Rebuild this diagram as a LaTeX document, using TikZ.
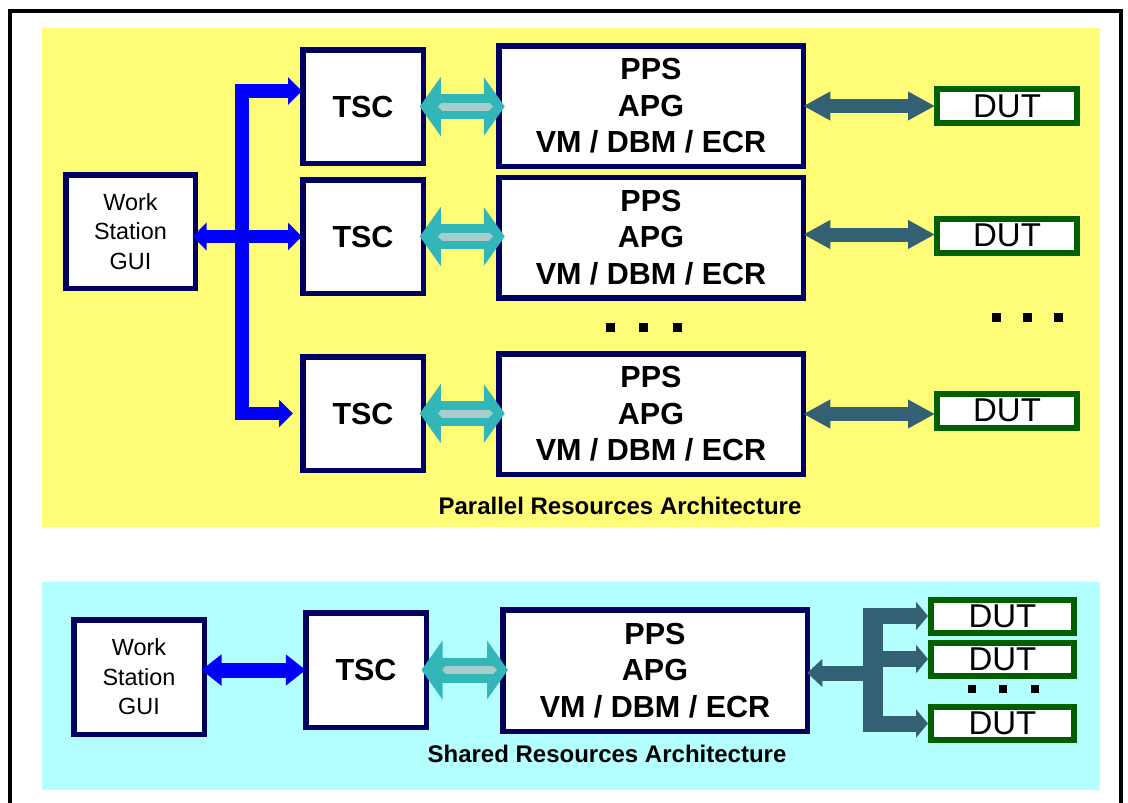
\documentclass[tikz,border=0pt]{standalone}
\usepackage{fontspec}
\setmainfont{Liberation Sans}
\usetikzlibrary{arrows.meta}
\definecolor{panelyellow}{RGB}{255,253,119}
\definecolor{panelcyan}{RGB}{180,255,255}
\definecolor{boxnavy}{RGB}{0,0,96}
\definecolor{busblue}{RGB}{0,0,255}
\definecolor{linkteal}{RGB}{50,182,184}
\definecolor{linkstripe}{RGB}{166,204,204}
\definecolor{dutslate}{RGB}{51,97,115}
\definecolor{dutgreen}{RGB}{0,96,0}
\begin{document}
\begin{tikzpicture}[x=1pt,y=-1pt,
  every node/.style={inner sep=0pt, outer sep=0pt},
  blockbox/.style={draw=boxnavy, line width=5.5pt, fill=white, align=center,
    font=\fontsize{30.5}{36.5}\selectfont\bfseries},
  tscbox/.style={blockbox, minimum width=120.5pt, minimum height=113.5pt},
  ppsbox/.style={blockbox, minimum width=304.5pt, minimum height=120.5pt},
  wsbox/.style={draw=boxnavy, line width=5.5pt, fill=white, align=center,
    minimum width=129.5pt, minimum height=113.5pt,
    font=\fontsize{23.4}{29.5}\selectfont},
  dutbox/.style={draw=dutgreen, line width=6pt, fill=white,
    minimum width=140pt, minimum height=34pt, font=\fontsize{33}{33}\selectfont},
  caption/.style={font=\fontsize{24}{24}\selectfont\bfseries},
  bluetip/.style={Triangle[length=14pt,width=27pt]},
  bluebus/.style={draw=busblue, line width=13.5pt, line join=miter,
    {Triangle[length=14pt,width=27pt]}-{Triangle[length=14pt,width=27pt]}},
  bluelink/.style={draw=busblue, line width=15pt,
    {Triangle[length=20pt,width=30pt]}-{Triangle[length=20pt,width=30pt]}},
  teallink/.style={draw=linkteal, line width=25pt,
    {Triangle[length=21pt,width=58pt]}-{Triangle[length=21pt,width=58pt]}},
  tealstripe/.style={draw=linkstripe, line width=8pt,
    {Triangle[length=4pt,width=8pt]}-{Triangle[length=4pt,width=8pt]}},
  dutlink/.style={draw=dutslate, line width=14pt,
    {Triangle[length=27pt,width=27pt]}-{Triangle[length=27pt,width=27pt]}},
  slatestem/.style={draw=dutslate, line width=15pt, -{Triangle[length=15pt,width=27pt]}},
  slatebranch/.style={draw=dutslate, line width=16pt, -{Triangle[length=12pt,width=28pt]}},
  dotmark/.style={fill=black}
]
\useasboundingbox (0,0) rectangle (1128,803);
\fill[white] (0,0) rectangle (1128,803);
\begin{scope}
  \clip (0,0) rectangle (1128,803);
  \draw[line width=4pt] (9.5,815) -- (9.5,10.5) -- (1121,10.5) -- (1121,815);
\end{scope}

% panels
\fill[panelyellow] (42,28) rectangle (1100,527);
\fill[panelcyan] (42,582) rectangle (1100,790);

% ---------- parallel architecture ----------
\node[wsbox] (ws1) at (130.5,231.5) {Work\\Station\\GUI};
\node[tscbox] (tsc1) at (363,106.5) {TSC};
\node[tscbox] (tsc2) at (363,236.5) {TSC};
\node[tscbox] (tsc3) at (363,413.5) {TSC};
\node[ppsbox] (pps1) at (651,106) {PPS\\APG\\VM / DBM / ECR};
\node[ppsbox] (pps2) at (651,237.5) {PPS\\APG\\VM / DBM / ECR};
\node[ppsbox] (pps3) at (651,414) {PPS\\APG\\VM / DBM / ECR};
\node[dutbox] (dut1) at (1007,106) {DUT};
\node[dutbox] (dut2) at (1007,235.5) {DUT};
\node[dutbox] (dut3) at (1007,410.5) {DUT};

% blue bus
\coordinate (busx) at (242,0);
\coordinate (t1in) at ([yshift=15.5pt]tsc1.west);
\draw[bluebus, shorten <=9.75pt, shorten >=0.75pt]
  (tsc3.west) -- (tsc3.west -| busx) -- (t1in -| busx) -- (t1in);
\draw[draw=busblue, line width=12.5pt,
  {Triangle[length=14pt,width=27pt]}-{Triangle[length=14pt,width=27pt]},
  shorten <=-2.75pt, shorten >=0.75pt]
  (ws1.east |- tsc2.west) -- (tsc2.west);

% teal links
\foreach \i in {1,2,3}{
  \draw[teallink, shorten <=-3.5pt, shorten >=-6pt] (tsc\i.east) -- (tsc\i.east -| pps\i.west);
  \draw[tealstripe, shorten <=14.75pt, shorten >=5.75pt] (tsc\i.east) -- (tsc\i.east -| pps\i.west);
}
% DUT links
\draw[dutlink, shorten >=2pt] (pps1.east) -- (pps1.east -| dut1.west);
\draw[dutlink, shorten >=2pt] ([yshift=3pt]pps2.east) -- ([yshift=3pt]pps2.east -| dut2.west);
\draw[dutlink, shorten >=2pt] (pps3.east) -- (pps3.east -| dut3.west);

% dots
\foreach \x in {610,643,677}{\fill[dotmark] (\x-4.5,322.5) rectangle (\x+4.5,331.5);}
\foreach \x in {996,1027,1058}{\fill[dotmark] (\x-4.5,312.5) rectangle (\x+4.5,321.5);}

\node[caption] (cap1) at (620,506) {Parallel Resources Architecture};

% ---------- shared architecture ----------
\node[wsbox, minimum width=130.5pt, minimum height=114.5pt] (ws2) at (139,677) {Work\\Station\\GUI};
\node[tscbox, minimum height=114.5pt] (tscb) at (366,670) {TSC};
\node[ppsbox, minimum width=304.5pt, minimum height=121.5pt] (ppsb) at (655,670.5) {PPS\\APG\\VM / DBM / ECR};
\node[dutbox, minimum width=143pt, minimum height=33pt] (dutb1) at (1002.5,616) {DUT};
\node[dutbox, minimum width=143pt, minimum height=33pt] (dutb2) at (1002.5,659) {DUT};
\node[dutbox, minimum width=143pt, minimum height=33pt] (dutb3) at (1002.5,723.5) {DUT};

\draw[bluelink, shorten <=-2.75pt, shorten >=0pt] (ws2.east |- tscb.west) -- (tscb.west);
\draw[teallink, shorten <=-4.75pt, shorten >=-5.25pt] (tscb.east) -- (tscb.east -| ppsb.west);
\draw[tealstripe, shorten <=15.75pt, shorten >=5.75pt] (tscb.east) -- (tscb.east -| ppsb.west);

% slate fan-out bus
\coordinate (hub) at (873,0);
\coordinate (hubl) at (863,0);
\fill[dutslate] (863,608) rectangle (883,731.5);
\draw[slatestem] ([yshift=-2.5pt]hub |- ppsb.east) -- ([yshift=-2.5pt]ppsb.east);
\draw[slatebranch, shorten >=3pt] (hubl |- dutb1.west) -- (dutb1.west);
\draw[slatebranch, shorten >=3pt] (hubl |- dutb2.west) -- (dutb2.west);
\draw[slatebranch, shorten >=3pt] (hubl |- dutb3.west) -- (dutb3.west);

\foreach \x in {972,1003,1035}{\fill[dotmark] (\x-4,685) rectangle (\x+4,693);}

\node[caption] (cap2) at (607,754) {Shared Resources Architecture};
\end{tikzpicture}
\end{document}
